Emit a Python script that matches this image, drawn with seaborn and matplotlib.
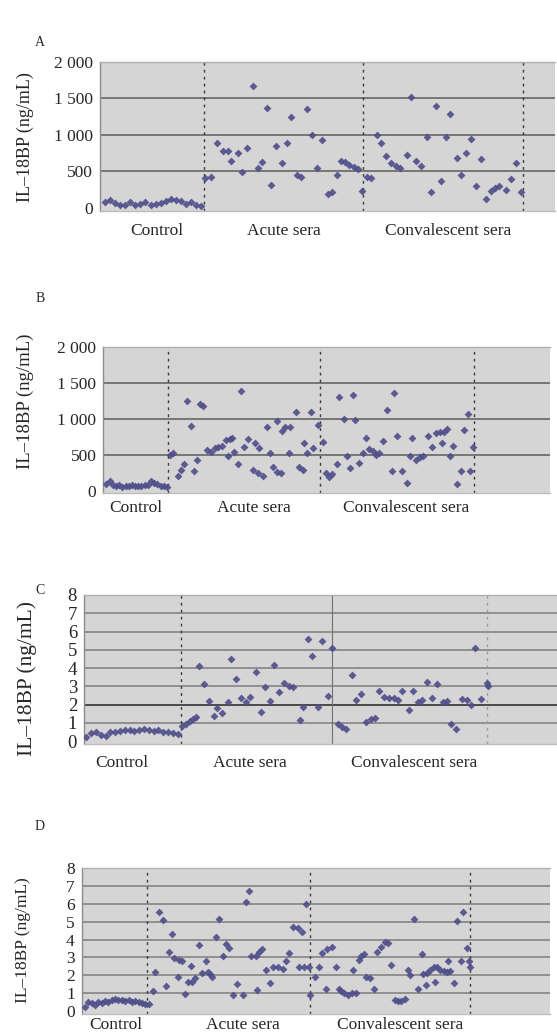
import numpy as np
import pandas as pd
import matplotlib.pyplot as plt
import seaborn as sns

# ---------------------------------------------------------------
# Data (x = sample index)
# ---------------------------------------------------------------
group_names = ["Control", "Acute sera", "Convalescent sera"]

# Panel A
a_ctrl_x = [1, 2, 3, 4, 5, 6, 7, 8, 9, 10, 11, 12, 13, 14, 15, 16, 17, 18, 19, 20]
a_ctrl_y = [77, 105, 68, 36, 36, 82, 45, 59, 77, 36, 55, 68, 91, 123, 114, 91, 55, 82, 36, 32]
a_acute_x = [20.8, 22, 23.2, 24.4, 25.3, 25.9, 27.3, 28.2, 29.1, 30.2, 31.2, 32, 33, 33.9, 34.9,
             36, 37.1, 37.9, 39.1, 39.9, 41, 41.9, 42.9, 43.9, 45.2, 45.9, 46.9, 47.7, 48.5,
             49.4, 50.3, 51.1, 51.8]
a_acute_y = [410, 430, 895, 780, 780, 650, 750, 486, 827, 1668, 550, 627, 1364, 309, 850,
             613, 895, 1250, 455, 418, 1350, 1000, 545, 932, 195, 213, 455, 650, 627,
             590, 555, 532, 236]
a_conv_x = [52.8, 53.7, 54.8, 55.6, 56.6, 57.6, 58.6, 59.4, 60.7, 61.6, 62.5, 63.5, 64.7, 65.5,
            66.5, 67.5, 68.5, 69.4, 70.6, 71.4, 72.4, 73.4, 74.5, 75.4, 76.4, 77.4, 78.2, 79,
            80.4, 81.3, 82.4, 83.3]
a_conv_y = [418, 409, 1000, 895, 714, 613, 568, 545, 727, 1523, 650, 577, 977, 213,
            1400, 364, 977, 1286, 691, 455, 750, 940, 305, 668, 123, 227, 273, 305,
            250, 395, 614, 213]

# Panel B
b_ctrl_x = [1, 2, 3, 4, 5, 6, 7, 8, 9, 10, 11, 12, 13, 14, 15, 16, 17, 18, 19, 20]
b_ctrl_y = [90, 135, 80, 60, 75, 55, 70, 60, 75, 65, 60, 70, 75, 80, 130, 110, 90, 70, 60, 45]
b_acute_x = [21, 22, 23.4, 24.4, 25.5, 26.2, 27.5, 28.4, 29.6, 30.5, 31.4, 32.6, 33.8, 35,
             36.2, 37.2, 38.5, 39.3, 39.7, 40.5, 41, 42.3, 43.2, 44.3, 45.4, 47, 47.7, 48.7,
             49, 50.1, 51.6, 52.4, 53.5, 54.5, 54.7, 55.8, 56.1, 57.1, 58.5, 58.7, 60.6,
             61.6, 62.7, 63, 64.2, 65.3, 66, 67.6]
b_acute_y = [500, 518, 208, 287, 370, 1250, 898, 278, 426, 1204, 1176, 565, 542, 588,
             611, 620, 704, 481, 722, 727, 532, 366, 1389, 611, 713, 287, 657, 241,
             588, 208, 889, 528, 333, 972, 264, 241, 833, 889, 528, 889, 1097,
             333, 287, 667, 528, 1097, 588, 912]
b_conv_x = [69, 70, 71.1, 71.8, 73.6, 74.2, 75.7, 76.7, 77.6, 78.4, 79.2, 80.3, 81.8, 82.6,
            83.6, 84.7, 85.8, 86.8, 88, 89.3, 90.7, 91.4, 92.5, 93.8, 95.4, 96.5, 97,
            98.3, 99.6, 100.4, 102.2, 103.3, 104.6, 105.9, 106.4, 107.1, 108.2, 109.2,
            110.1, 111.3, 112.4, 113.4, 114.6, 115.3, 116.4]
b_conv_y = [680, 250, 194, 231, 370, 1306, 991, 481, 310, 1329, 981, 380, 518, 727,
            574, 556, 495, 528, 694, 1120, 278, 1352, 759, 278, 102, 481, 727,
            426, 463, 481, 759, 602, 796, 820, 667, 820, 852, 481,
            620, 93, 278, 843, 1065, 278, 602]

# Panel C
c_ctrl_x = [0.5, 1.5, 2.5, 3.5, 4.5, 5.5, 6.5, 7.5, 8.5, 9.5, 10.5, 11.5, 12.5, 13.5, 14.5,
            15.5, 16.5, 17.5, 18.5, 19.5]
c_ctrl_y = [0.2, 0.45, 0.5, 0.35, 0.3, 0.5, 0.5, 0.55, 0.6, 0.6, 0.55, 0.6, 0.65, 0.6, 0.55,
            0.6, 0.5, 0.5, 0.45, 0.4]
c_acute_x = [20.5, 21.3, 22, 22.7, 23.4, 24, 25, 26, 27.1, 27.8, 28.8, 29.9, 30.7, 31.7, 32.7,
             33.7, 34.5, 35.8, 36.9, 37.7, 38.8, 39.6, 40.6, 41.7, 42.7, 43.5, 45, 45.7,
             46.6, 47.5, 48.7, 49.6, 50.8, 51.7]
c_acute_y = [0.8, 0.95, 1.1, 1.2, 1.3, 4.1, 3.12, 2.2, 1.39, 1.83, 1.52, 2.12, 4.49, 3.38, 2.34,
             2.12, 2.43, 3.76, 1.57, 2.98, 2.19, 4.16, 2.67, 3.16, 3.03, 2.98, 1.15, 1.88,
             5.59, 4.68, 1.88, 5.48, 2.47, 5.08]
c_conv_x = [52.8, 53.7, 54.5, 55.8, 56.7, 57.6, 58.7, 59.7, 60.6, 61.5, 62.5, 63.5, 64.6, 65.3,
            66.3, 67.6, 68.6, 69.6, 70.3, 71.5, 72.4, 73.6, 74.7, 75.5, 76.5, 77.4, 78.7,
            79.7, 80.6, 81.4, 82.6, 83.9, 84.1]
c_conv_y = [0.91, 0.79, 0.66, 3.62, 2.25, 2.56, 1.06, 1.21, 1.28, 2.74, 2.43, 2.34, 2.34, 2.25,
            2.74, 1.7, 2.74, 2.12, 2.25, 3.21, 2.34, 3.1, 2.12, 2.19, 0.91, 0.66, 2.3,
            2.25, 2.0, 5.08, 2.3, 3.16, 3.03]

# Panel D
d_ctrl_x = [1, 2, 3, 4, 5, 6, 7, 8, 9, 10, 11, 12, 13, 14, 15, 16, 17, 18, 19, 20]
d_ctrl_y = [0.25, 0.5, 0.45, 0.35, 0.5, 0.45, 0.55, 0.5, 0.6, 0.65, 0.6, 0.6, 0.55, 0.6, 0.5,
            0.55, 0.5, 0.45, 0.4, 0.4]
d_acute_x = [21.2, 21.9, 23.2, 24.2, 25.1, 26.1, 27.1, 27.6, 28.8, 29, 30, 30.8, 31.8, 32.8,
             33.1, 33.8, 35.1, 36, 37.1, 37.8, 38.5, 39.1, 40.1, 41, 42.1, 43.1, 44.1, 45.1,
             46.4, 48.1, 49, 50, 50.7, 52, 52.3, 53, 53.9, 55.2, 56.4, 57.2, 58.7, 60.1,
             61, 62, 63.2, 64.7, 65, 66, 66.5, 67, 68]
d_acute_y = [1.12, 2.2, 5.57, 5.1, 1.42, 3.29, 4.32, 2.95, 1.93, 2.86, 2.82, 0.93, 1.61, 2.52,
             1.64, 1.83, 3.7, 2.11, 2.8, 2.2, 2.06, 1.93, 4.17, 5.14, 3.08, 3.76, 3.51, 0.9,
             1.51, 0.9, 6.13, 6.75, 3.08, 3.08, 1.18, 3.33, 3.46, 2.3, 1.59, 2.45, 2.45, 2.34,
             2.82, 3.23, 4.73, 4.64, 2.49, 4.45, 2.49, 6.0, 2.49]
d_conv_x = [68.4, 69.6, 70.9, 71.7, 73, 73.2, 74.9, 76, 76.8, 77.6, 78.5, 79.5, 80.8, 81,
            82.1, 82.8, 83.5, 84.5, 85.1, 86.3, 87.3, 88.4, 89.6, 90.8, 91.6, 92.6, 93.6,
            94.6, 95.6, 96.6, 97.4, 98.1, 99.4, 100.4, 101.6, 102, 103, 103.2, 104.2,
            105.2, 105.5, 106.2, 107.2, 108.2, 109.2, 109.5, 110.2, 111.3, 112.1, 113.3,
            113.9, 115.3, 115.9, 116.1]
d_conv_y = [0.9, 1.93, 2.49, 3.27, 1.21, 3.46, 3.57, 2.49, 1.21, 1.14, 1.03, 0.9, 1.03, 2.3,
            0.99, 2.86, 3.08, 3.2, 1.93, 1.83, 1.21, 3.33, 3.6, 3.85, 3.83, 2.58, 0.62,
            0.58, 0.58, 0.65, 2.3, 2.02, 5.14, 1.21, 3.2, 2.07, 1.46, 2.15, 2.3,
            2.45, 1.64, 2.49, 2.3, 2.26, 2.2, 2.82, 2.26, 1.55, 5.07, 2.82,
            5.57, 3.51, 2.82, 2.49]

# Axis ticks
ng_ticks = [0, 500, 1000, 1500, 2000]
ng_ticklabels = ["0", "500", "1 000", "1 500", "2 000"]
small_ticks = [0, 1, 2, 3, 4, 5, 6, 7, 8]
small_ticklabels = ["0", "1", "2", "3", "4", "5", "6", "7", "8"]

# ---------------------------------------------------------------
# Figure
# ---------------------------------------------------------------
W, H = 557, 1032
sns.set_style("white")
plt.rcParams["font.family"] = ["Liberation Serif", "DejaVu Serif"]

fig = plt.figure(figsize=(W / 100, H / 100), dpi=100)

BG = "#d5d5d5"
DOT = "#4e4e8a"


def box(left, top, right, bottom):
    return [left / W, 1 - bottom / H, (right - left) / W, (bottom - top) / H]


def fig_text(x, y, s, **kw):
    fig.text(x / W, 1 - y / H, s, **kw)


panels = [
    dict(letter="A", rect=box(100, 62, 554.5, 210.5), xlim=(0, 90), xstep=10,
         ylim=(-35, 2000), ticks=ng_ticks, labels=ng_ticklabels,
         data=[(a_ctrl_x, a_ctrl_y), (a_acute_x, a_acute_y), (a_conv_x, a_conv_y)],
         seps=[20.5, 52.1, 83.8], letter_y=42, ylab=(25, 137, 13), tick_fs=12.5,
         glab_y=231, glab_x=[157, 284, 448]),
    dict(letter="B", rect=box(103.3, 346.7, 550, 493.2), xlim=(0, 140.5), xstep=20,
         ylim=(-35, 2000), ticks=ng_ticks, labels=ng_ticklabels,
         data=[(b_ctrl_x, b_ctrl_y), (b_acute_x, b_acute_y), (b_conv_x, b_conv_y)],
         seps=[20.4, 68.1, 116.6], letter_y=298, ylab=(25, 401, 13.5), tick_fs=12.5,
         glab_y=508, glab_x=[136, 254, 406]),
    dict(letter="C", rect=box(84, 595, 557, 744.3), xlim=(0, 98.5), xstep=20,
         ylim=(-0.18, 8), ticks=small_ticks, labels=small_ticklabels,
         data=[(c_ctrl_x, c_ctrl_y), (c_acute_x, c_acute_y), (c_conv_x, c_conv_y)],
         seps=[20.3, 51.7, 83.9], letter_y=590, ylab=(27, 678, 15.5), tick_fs=13.5,
         glab_y=763, glab_x=[122, 250, 414]),
    dict(letter="D", rect=box(81.7, 868.3, 550, 1014), xlim=(0, 140), xstep=20,
         ylim=(-0.17, 8), ticks=small_ticks, labels=small_ticklabels,
         data=[(d_ctrl_x, d_ctrl_y), (d_acute_x, d_acute_y), (d_conv_x, d_conv_y)],
         seps=[19.5, 68.2, 116], letter_y=826, ylab=(23, 940, 12.5), tick_fs=12.5,
         glab_y=1025, glab_x=[116, 243, 400]),
]

for p in panels:
    ax = fig.add_axes(p["rect"])
    ax.set_facecolor(BG)

    frames = []
    for name, (xs, ys) in zip(group_names, p["data"]):
        frames.append(pd.DataFrame({"x": xs, "y": ys, "group": name}))
    df = pd.concat(frames, ignore_index=True)

    # horizontal grid lines at the inner ticks
    for t in p["ticks"][1:-1]:
        col = "#6f6f6f"
        if p["letter"] in ("C", "D"):
            col = "#3f3f3f" if (p["letter"] == "C" and t == 2) else "#8a8a8a"
        ax.axhline(t, color=col, lw=1.3, zorder=1)

    # group separators
    for i, s in enumerate(p["seps"]):
        if p["letter"] == "C" and i == 1:
            ax.axvline(s, color="#707070", lw=0.8, zorder=1)
        elif p["letter"] == "C" and i == 2:
            ax.axvline(s, color="#9a9a9a", lw=1, ls=(0, (2, 3)), zorder=1)
        else:
            ax.axvline(s, color="#3a3a3a", lw=1, ls=(0, (2, 3)), zorder=1)

    sns.scatterplot(data=df, x="x", y="y", ax=ax, color=DOT, marker="D", s=16,
                    linewidth=0, alpha=0.9, legend=False, zorder=3)

    ax.set_xlim(*p["xlim"])
    ax.set_ylim(*p["ylim"])
    ax.set_xticks(np.arange(0, p["xlim"][1] + 0.1, p["xstep"]))
    ax.set_xticklabels([])
    ax.set_yticks(p["ticks"])
    ax.set_yticklabels(p["labels"], fontsize=p["tick_fs"])
    ax.set_xlabel("")
    ax.set_ylabel("")
    ax.tick_params(axis="y", length=3, width=1, color="#808080", pad=2)
    ax.tick_params(axis="x", length=3, width=1, color="#a0a0a0", pad=1)

    ax.spines["left"].set_color("#8c8c8c")
    ax.spines["bottom"].set_color("#bdbdbd")
    ax.spines["top"].set_color("#b0b0b0")
    ax.spines["right"].set_visible(False)
    for sp in ax.spines.values():
        sp.set_linewidth(1)

    # panel letter, axis title and group names
    fig_text(40, p["letter_y"], p["letter"], fontsize=10, ha="center", va="center")
    lx, ly, lfs = p["ylab"]
    fig_text(lx, ly, "IL–18BP (ng/mL)", fontsize=lfs, rotation=90,
             ha="center", va="center")
    for gx, name in zip(p["glab_x"], group_names):
        fig_text(gx, p["glab_y"], name, fontsize=12.5, ha="center", va="center")

fig.savefig("out.png", dpi=100, facecolor="white")
